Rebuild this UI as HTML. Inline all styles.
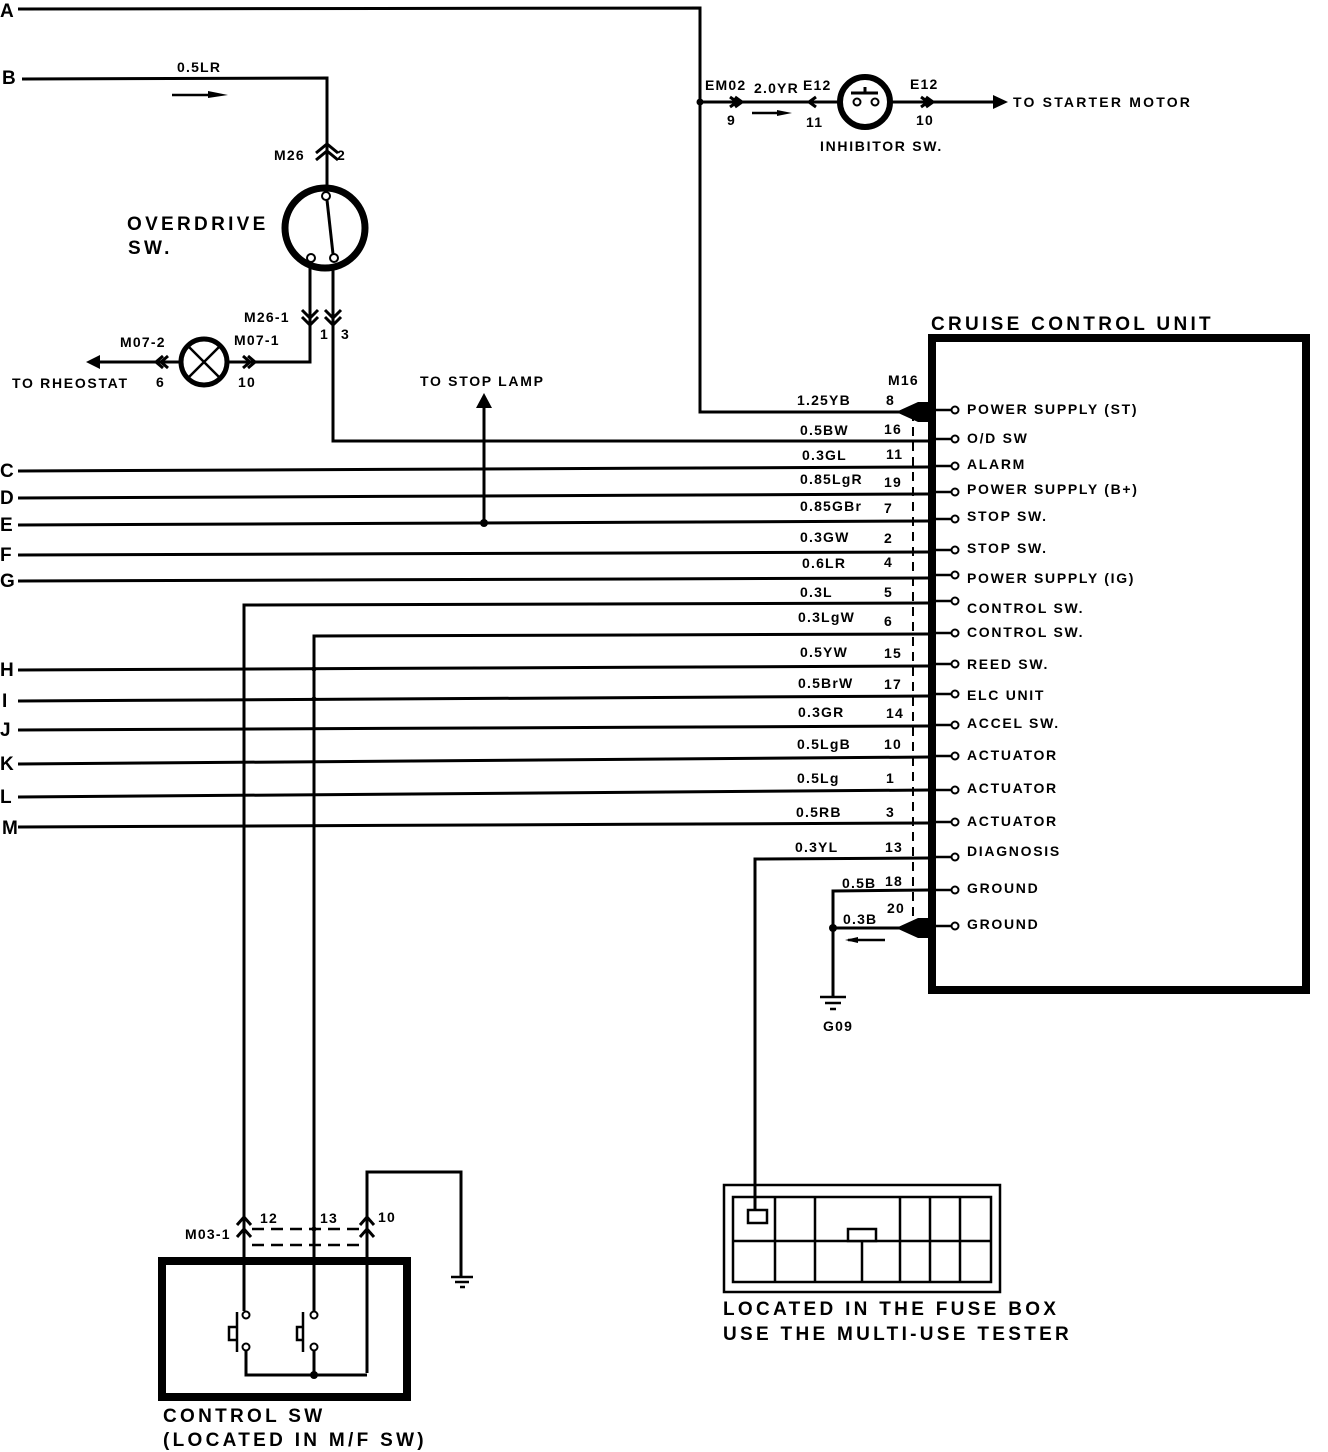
<!DOCTYPE html>
<html><head><meta charset="utf-8"><style>
html,body{margin:0;padding:0;background:#fff;}
svg{display:block;}
text{font-family:"Liberation Sans",sans-serif;font-weight:bold;fill:#000;}
.s{font-size:14px;letter-spacing:1.2px;}
.r text{letter-spacing:1.7px;}
.m{font-size:15px;}
.l{font-size:19px;letter-spacing:3.3px;}
.w{stroke:#000;stroke-width:3;fill:none;}
</style></head><body>
<svg width="1328" height="1452" viewBox="0 0 1328 1452" xmlns="http://www.w3.org/2000/svg">
<!-- A -->
<text class="l" x="0" y="17">A</text>
<path class="w" d="M18 9 L700 8 L700 412 L905 412"/>
<circle cx="700" cy="102" r="3.5"/>
<!-- B -->
<text class="l" x="2" y="84">B</text>
<path class="w" d="M22 79 L327 78 L327 186"/>
<text class="s" x="177" y="72">0.5LR</text>
<path d="M172 95 L215 95" stroke="#000" stroke-width="2.5"/><path d="M208 91 L228 95 L208 98 Z"/>
<!-- M26 -->
<path class="w" d="M316 153 L327 144 L338 153 M316 160 L327 151 L338 160" stroke-width="2"/>
<text class="s" x="274" y="160">M26</text><text class="s" x="337" y="160">2</text>
<circle cx="325" cy="228" r="40" fill="none" stroke="#000" stroke-width="7"/>
<circle cx="326" cy="196" r="4" fill="#fff" stroke="#000" stroke-width="2"/>
<circle cx="311" cy="258" r="4" fill="#fff" stroke="#000" stroke-width="2"/>
<circle cx="334" cy="258" r="4" fill="#fff" stroke="#000" stroke-width="2"/>
<path d="M327 200 L333 254" stroke="#000" stroke-width="3"/>
<text class="l" x="127" y="230">OVERDRIVE</text><text class="l" x="128" y="254">SW.</text>
<path class="w" d="M310 268 L310 362 L90 362"/>
<path class="w" d="M333 268 L333 441 L930 441"/>
<path class="w" d="M302 310 L310 318 L318 310 M302 317 L310 325 L318 317 M325 310 L333 318 L341 310 M325 317 L333 325 L341 317" stroke-width="2"/>
<text class="s" x="244" y="322">M26-1</text><text class="s" x="320" y="339">1</text><text class="s" x="341" y="339">3</text>
<!-- lamp -->
<circle cx="204" cy="362" r="23" fill="#fff" stroke="#000" stroke-width="5"/>
<path d="M189 347 L219 377 M219 347 L189 377" stroke="#000" stroke-width="2.5"/>
<path d="M100 355 L86 362 L100 369 Z"/>
<path class="w" d="M163 356 L156 362 L163 368 M168 356 L161 362 L168 368" stroke-width="2"/>
<path class="w" d="M243 356 L250 362 L243 368 M248 356 L255 362 L248 368" stroke-width="2"/>
<text class="s" x="120" y="347">M07-2</text><text class="s" x="156" y="387">6</text>
<text class="s" x="234" y="345">M07-1</text><text class="s" x="238" y="387">10</text>
<text class="s" x="12" y="388" style="letter-spacing:1.7px">TO RHEOSTAT</text>
<!-- inhibitor -->
<path class="w" d="M700 102 L995 102"/>
<path d="M993 95 L1008 102 L993 109 Z"/>
<circle cx="865" cy="102" r="25" fill="#fff" stroke="#000" stroke-width="6"/>
<path class="w" d="M851 93 L878 93 M865 93 L865 87" stroke-width="2.5"/>
<circle cx="857" cy="102" r="3.5" fill="#fff" stroke="#000" stroke-width="2"/>
<circle cx="875" cy="102" r="3.5" fill="#fff" stroke="#000" stroke-width="2"/>
<path class="w" d="M730 97 L737 102 L730 107 M735 97 L742 102 L735 107 M816 97 L809 102 L816 107 M921 97 L928 102 L921 107 M926 97 L933 102 L926 107" stroke-width="2"/>
<path d="M752 113 L780 113" stroke="#000" stroke-width="2.5"/><path d="M777 110 L792 113 L777 116 Z"/>
<text class="s" x="705" y="90">EM02</text><text class="s" x="727" y="125">9</text>
<text class="s" x="754" y="93">2.0YR</text><text class="s" x="803" y="90">E12</text><text class="s" x="806" y="127">11</text>
<text class="s" x="910" y="89">E12</text><text class="s" x="916" y="125">10</text>
<text class="s" x="820" y="151" style="letter-spacing:1.7px">INHIBITOR SW.</text>
<text class="s" x="1013" y="107" style="letter-spacing:2.2px">TO STARTER MOTOR</text>
<!-- CCU box -->
<text class="l" x="931" y="330">CRUISE CONTROL UNIT</text>
<rect x="932" y="338" width="374" height="652" fill="none" stroke="#000" stroke-width="8"/>
<text class="s" x="888" y="385">M16</text>
<path d="M913 412 L913 935" stroke="#000" stroke-width="2" stroke-dasharray="9,6"/>
<path d="M896 412 L918 402 L932 402 L932 422 L918 422 Z"/>
<path d="M896 928 L918 918 L932 918 L932 938 L918 938 Z"/>
<!-- rows -->
<g class="w">
<path d="M18 471 L930 467"/>
<path d="M18 498 L930 494"/>
<path d="M18 525 L930 521"/>
<path d="M18 555 L930 552"/>
<path d="M18 581 L930 578"/>
<path d="M244 1210 L244 605 L930 603"/>
<path d="M314 1210 L314 636 L930 634"/>
<path d="M18 670 L930 666"/>
<path d="M18 701 L930 696"/>
<path d="M18 730 L930 726"/>
<path d="M18 764 L930 757"/>
<path d="M18 797 L930 790"/>
<path d="M18 827 L930 823"/>
<path d="M755 1210 L755 859 L930 858"/>
<path d="M833 997 L833 891 L930 890"/>
<path d="M833 928 L900 928"/>
<path d="M484 523 L484 405"/>
</g>
<path d="M476 408 L484 393 L492 408 Z"/>
<circle cx="484" cy="523" r="4"/>
<circle cx="833" cy="928" r="4"/>
<circle cx="314" cy="669" r="2.5"/><circle cx="314" cy="699" r="2.5"/>
<text class="s" x="420" y="386" style="letter-spacing:1.7px">TO STOP LAMP</text>
<g class="l">
<text x="0" y="477">C</text><text x="0" y="504">D</text><text x="0" y="531">E</text><text x="0" y="561">F</text><text x="0" y="587">G</text>
<text x="0" y="676">H</text><text x="2" y="707">I</text><text x="0" y="736">J</text><text x="0" y="770">K</text><text x="0" y="803">L</text><text x="2" y="834">M</text>
</g>
<g class="s">
<text x="797" y="405">1.25YB</text><text x="886" y="405">8</text>
<text x="800" y="435">0.5BW</text><text x="884" y="434">16</text>
<text x="802" y="460">0.3GL</text><text x="886" y="459">11</text>
<text x="800" y="484">0.85LgR</text><text x="884" y="487">19</text>
<text x="800" y="511">0.85GBr</text><text x="884" y="513">7</text>
<text x="800" y="542">0.3GW</text><text x="884" y="543">2</text>
<text x="802" y="568">0.6LR</text><text x="884" y="567">4</text>
<text x="800" y="597">0.3L</text><text x="884" y="597">5</text>
<text x="798" y="622">0.3LgW</text><text x="884" y="626">6</text>
<text x="800" y="657">0.5YW</text><text x="884" y="658">15</text>
<text x="798" y="688">0.5BrW</text><text x="884" y="689">17</text>
<text x="798" y="717">0.3GR</text><text x="886" y="718">14</text>
<text x="797" y="749">0.5LgB</text><text x="884" y="749">10</text>
<text x="797" y="783">0.5Lg</text><text x="886" y="783">1</text>
<text x="796" y="817">0.5RB</text><text x="886" y="817">3</text>
<text x="795" y="852">0.3YL</text><text x="885" y="852">13</text>
<text x="842" y="888">0.5B</text><text x="885" y="886">18</text>
<text x="843" y="924">0.3B</text><text x="887" y="913">20</text>
</g>
<path d="M848 940 L885 940" stroke="#000" stroke-width="2.5"/><path d="M858 937 L845 940 L858 943 Z"/>
<path d="M820 997 L846 997 M825 1003 L841 1003 M830 1009 L836 1009" stroke="#000" stroke-width="2.5"/>
<text class="s" x="823" y="1031">G09</text>
<!-- terminals -->
<g fill="#fff" stroke="#000" stroke-width="2">
<circle cx="955" cy="410" r="3.5"/><circle cx="955" cy="439" r="3.5"/><circle cx="955" cy="466" r="3.5"/><circle cx="955" cy="492" r="3.5"/><circle cx="955" cy="519" r="3.5"/><circle cx="955" cy="550" r="3.5"/><circle cx="955" cy="575" r="3.5"/><circle cx="955" cy="601" r="3.5"/><circle cx="955" cy="633" r="3.5"/><circle cx="955" cy="664" r="3.5"/><circle cx="955" cy="694" r="3.5"/><circle cx="955" cy="725" r="3.5"/><circle cx="955" cy="756" r="3.5"/><circle cx="955" cy="790" r="3.5"/><circle cx="955" cy="822" r="3.5"/><circle cx="955" cy="857" r="3.5"/><circle cx="955" cy="890" r="3.5"/><circle cx="955" cy="926" r="3.5"/>
</g>
<g stroke="#000" stroke-width="2.5">
<path d="M936 410 L951 410 M936 439 L951 439 M936 466 L951 466 M936 492 L951 492 M936 519 L951 519 M936 550 L951 550 M936 575 L951 575 M936 601 L951 601 M936 633 L951 633 M936 664 L951 664 M936 694 L951 694 M936 725 L951 725 M936 756 L951 756 M936 790 L951 790 M936 822 L951 822 M936 857 L951 857 M936 890 L951 890 M936 926 L951 926"/>
</g>
<g class="s r">
<text x="967" y="414">POWER SUPPLY (ST)</text>
<text x="967" y="443">O/D SW</text>
<text x="967" y="469">ALARM</text>
<text x="967" y="494">POWER SUPPLY (B+)</text>
<text x="967" y="521">STOP SW.</text>
<text x="967" y="553">STOP SW.</text>
<text x="967" y="583">POWER SUPPLY (IG)</text>
<text x="967" y="613">CONTROL SW.</text>
<text x="967" y="637">CONTROL SW.</text>
<text x="967" y="669">REED SW.</text>
<text x="967" y="700">ELC UNIT</text>
<text x="967" y="728">ACCEL SW.</text>
<text x="967" y="760">ACTUATOR</text>
<text x="967" y="793">ACTUATOR</text>
<text x="967" y="826">ACTUATOR</text>
<text x="967" y="856">DIAGNOSIS</text>
<text x="967" y="893">GROUND</text>
<text x="967" y="929">GROUND</text>
</g>
<!-- fuse box -->
<rect x="724" y="1185" width="276" height="107" fill="none" stroke="#000" stroke-width="2.5"/>
<rect x="733" y="1197" width="258" height="85" fill="none" stroke="#000" stroke-width="2.5"/>
<path d="M733 1241 L991 1241 M775 1197 L775 1282 M815 1197 L815 1282 M900 1197 L900 1282 M930 1197 L930 1282 M960 1197 L960 1282 M862 1241 L862 1282" stroke="#000" stroke-width="2.5"/>
<rect x="748" y="1210" width="19" height="13" fill="#fff" stroke="#000" stroke-width="2.5"/>
<rect x="848" y="1229" width="28" height="12" fill="#fff" stroke="#000" stroke-width="2.5"/>
<text class="l" x="723" y="1315">LOCATED IN THE FUSE BOX</text>
<text class="l" x="723" y="1340">USE THE MULTI-USE TESTER</text>
<!-- control sw -->
<rect x="162" y="1261" width="245" height="136" fill="none" stroke="#000" stroke-width="8"/>
<path class="w" d="M244 1210 L244 1311 M314 1210 L314 1311 M367 1373 L367 1172 L461 1172 L461 1276 M246 1351 L246 1375 L367 1375 M314 1351 L314 1375"/>
<path d="M451 1277 L473 1277 M455 1282 L469 1282 M460 1287 L465 1287" stroke="#000" stroke-width="2.5"/>
<circle cx="314" cy="1375" r="4"/>
<g fill="#fff" stroke="#000" stroke-width="2">
<circle cx="246" cy="1315" r="3.5"/><circle cx="246" cy="1347" r="3.5"/><circle cx="314" cy="1315" r="3.5"/><circle cx="314" cy="1347" r="3.5"/>
</g>
<path d="M237 1312 L237 1352 M303 1312 L303 1352" stroke="#000" stroke-width="2.5"/>
<path d="M237 1327 L229 1327 L229 1340 L237 1340 M303 1327 L297 1327 L297 1340 L303 1340" stroke="#000" stroke-width="2.5" fill="none"/>
<path class="w" d="M237 1225 L244 1217 L251 1225 M237 1237 L244 1229 L251 1237 M360 1225 L367 1217 L374 1225 M360 1237 L367 1229 L374 1237" stroke-width="2"/>
<path d="M252 1229 L360 1229 M252 1245 L360 1245" stroke="#000" stroke-width="2.5" stroke-dasharray="12,7"/>
<circle cx="314" cy="1229" r="2.5"/>
<text class="s" x="185" y="1239">M03-1</text><text class="s" x="260" y="1223">12</text><text class="s" x="320" y="1223">13</text><text class="s" x="378" y="1222">10</text>
<text class="l" x="163" y="1422">CONTROL SW</text>
<text class="l" x="163" y="1446">(LOCATED IN M/F SW)</text>
</svg>
</body></html>
